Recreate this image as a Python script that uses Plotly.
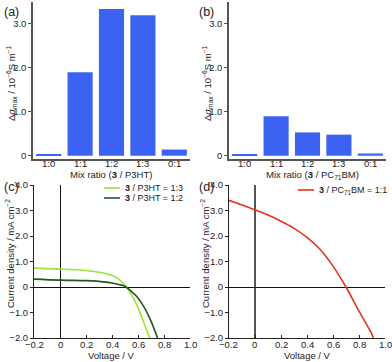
import plotly.graph_objects as go

W, H = 392, 362

# ===== data =====
ratios = ["1:0", "1:1", "1:2", "1:3", "0:1"]
sigma_p3ht = [0.04, 1.90, 3.34, 3.20, 0.14]
sigma_pcbm = [0.03, 0.90, 0.53, 0.48, 0.05]

v_13 = [-0.2, 0.0, 0.1, 0.2, 0.3, 0.35, 0.4, 0.45, 0.5, 0.55, 0.6, 0.65, 0.69]
j_13 = [0.74, 0.70, 0.68, 0.65, 0.58, 0.53, 0.45, 0.32, 0.06, -0.30, -0.82, -1.47, -2.0]

v_12 = [-0.2, 0.0, 0.2, 0.3, 0.4, 0.45, 0.5, 0.55, 0.6, 0.65, 0.7, 0.75]
j_12 = [0.31, 0.27, 0.25, 0.22, 0.16, 0.10, 0.03, -0.18, -0.43, -0.82, -1.34, -2.0]

v_pc = [-0.2, -0.1, 0.0, 0.1, 0.2, 0.3, 0.4, 0.5, 0.6, 0.7, 0.8, 0.9, 0.91]
j_pc = [3.40, 3.22, 3.03, 2.82, 2.58, 2.30, 1.95, 1.48, 0.82, 0.0, -0.95, -1.86, -2.0]

sig_ticks = [0, 1, 2, 3]
sig_text = ["0", "1.0", "2.0", "3.0"]
j_ticks = [-2, -1, 0, 1, 2, 3, 4]
j_text = ["\u22122.0", "\u22121.0", "0", "1.0", "2.0", "3.0", "4.0"]
v_ticks = [-0.2, 0, 0.2, 0.4, 0.6, 0.8, 1.0]
v_text = ["\u22120.2", "0", "0.2", "0.4", "0.6", "0.8", "1.0"]

BLUE = "#3b62f0"
LGREEN = "#9ae43c"
DGREEN = "#1f5a1f"
RED = "#e8301e"
FONT = "Liberation Sans, Arial, sans-serif"
SIG_TITLE = "\u0394<i>\u03c3</i><sub>max</sub> / 10<sup>\u22126</sup>S m<sup>\u22121</sup>"
J_TITLE = "Current density / mA cm<sup>\u22122</sup>"


def px_x(a, b):
    return [a / W, b / W]


def px_y(top, bottom):
    return [1 - bottom / H, 1 - top / H]


def note(text, x, y, size=9.5, xanchor="left", angle=0):
    fig.add_annotation(text=text, x=x / W, y=1 - y / H, xref="paper", yref="paper",
                       xanchor=xanchor, yanchor="middle", showarrow=False, textangle=angle,
                       font=dict(size=size, color="#222", family=FONT))


def xlabels(ax, vals, texts, y):
    # tick labels sit tight under the axis line, as in the reference
    for v, t in zip(vals, texts):
        fig.add_annotation(text=t, x=v, xref=ax, y=1 - y / H, yref="paper",
                           xanchor="center", yanchor="middle", showarrow=False,
                           font=dict(size=9.5, color="#222", family=FONT))


fig = go.Figure()

fig.add_trace(go.Bar(x=ratios, y=sigma_p3ht, marker_color=BLUE, marker_line_width=0,
                     xaxis="x", yaxis="y"))
fig.add_trace(go.Bar(x=ratios, y=sigma_pcbm, marker_color=BLUE, marker_line_width=0,
                     xaxis="x2", yaxis="y2"))

fig.add_trace(go.Scatter(x=v_13, y=j_13, mode="lines", line=dict(color=LGREEN, width=1.6, shape="spline"),
                         name="3 / P3HT = 1:3", xaxis="x3", yaxis="y3"))
fig.add_trace(go.Scatter(x=v_12, y=j_12, mode="lines", line=dict(color=DGREEN, width=1.6, shape="spline"),
                         name="3 / P3HT = 1:2", xaxis="x3", yaxis="y3"))
fig.add_trace(go.Scatter(x=v_pc, y=j_pc, mode="lines", line=dict(color=RED, width=1.6, shape="spline"),
                         name="3 / PC71BM = 1:1", xaxis="x4", yaxis="y4"))

tickfont = dict(size=9.5, color="#222")

bar_x = dict(type="category", categoryorder="array", categoryarray=ratios, range=[-0.5, 4.5],
             showline=True, linecolor="#555", linewidth=1.5, ticks="",
             showticklabels=False, showgrid=False, zeroline=False, automargin=False)
bar_y = dict(range=[-0.075, 3.5], tickvals=sig_ticks, ticktext=sig_text, showline=True,
             linecolor="#555", linewidth=1.5, ticks="outside", ticklen=3, tickcolor="#555",
             tickfont=tickfont, showgrid=False, zeroline=False, automargin=False)

iv_x = dict(range=[-0.2, 1.0], tickvals=v_ticks, showline=True, linecolor="#222",
            linewidth=1, ticks="inside", ticklen=3, tickcolor="#222", showticklabels=False,
            showgrid=False, zeroline=True, zerolinewidth=1.2, automargin=False)
iv_y = dict(range=[-2, 4], tickvals=j_ticks, ticktext=j_text, showline=True, linecolor="#222",
            linewidth=1, ticks="outside", ticklen=3, tickcolor="#222", tickfont=tickfont,
            showgrid=False, zeroline=True, zerolinecolor="#111", zerolinewidth=1.2, automargin=False)

fig.update_layout(
    width=W, height=H,
    margin=dict(l=0, r=0, t=0, b=0),
    paper_bgcolor="white", plot_bgcolor="white",
    font=dict(family=FONT, size=9.5, color="#222"),
    bargap=0.2,
    showlegend=False,
    xaxis=dict(bar_x, domain=px_x(33, 190), anchor="y"),
    yaxis=dict(bar_y, domain=px_y(2, 159), anchor="x"),
    xaxis2=dict(bar_x, domain=px_x(229, 386), anchor="y2"),
    yaxis2=dict(bar_y, domain=px_y(2, 159), anchor="x2"),
    xaxis3=dict(iv_x, domain=px_x(34, 190), anchor="y3", zerolinecolor="#111"),
    yaxis3=dict(iv_y, domain=px_y(185, 338), anchor="x3"),
    xaxis4=dict(iv_x, domain=px_x(229, 385), anchor="y4", zerolinecolor="#555", zerolinewidth=2),
    yaxis4=dict(iv_y, domain=px_y(185, 338), anchor="x4"),
)

# x tick labels
xlabels("x", ratios, ratios, 164)
xlabels("x2", ratios, ratios, 164)
xlabels("x3", v_ticks, v_text, 344)
xlabels("x4", v_ticks, v_text, 344)

# axis titles
note("Mix ratio (<b>3</b> / P3HT)", 111, 175, xanchor="center")
note("Mix ratio (<b>3</b> / PC<sub>71</sub>BM)", 312, 175, xanchor="center")
note("Voltage / V", 111, 355, xanchor="center")
note("Voltage / V", 307, 355, xanchor="center")
note(SIG_TITLE, 12, 84, xanchor="center", angle=-90)
note(SIG_TITLE, 208, 84, xanchor="center", angle=-90)
note(J_TITLE, 10, 254, xanchor="center", angle=-90)
note(J_TITLE, 205, 254, xanchor="center", angle=-90)

# hand-made legends (short sample lines, tight rows like the reference)
legend_rows = [
    (LGREEN, "<b>3</b> / P3HT = 1:3", 104, 188),
    (DGREEN, "<b>3</b> / P3HT = 1:2", 104, 198),
    (RED, "<b>3</b> / PC<sub>71</sub>BM = 1:1", 298, 190),
]
for color, text, x0, y0 in legend_rows:
    fig.add_shape(type="line", xref="paper", yref="paper", x0=x0 / W, x1=(x0 + 16) / W,
                  y0=1 - y0 / H, y1=1 - y0 / H, line=dict(color=color, width=1.6))
    note(text, x0 + 19, y0, size=9)

for label, x, y in [("(a)", 2, 12), ("(b)", 197, 12), ("(c)", 2, 187), ("(d)", 197, 187)]:
    note(label, x, y, size=12.5)

# the page body has a default 8px margin; drop it so the figure fills the window
fig.write_html("out.html", config={"displayModeBar": False},
               post_script="document.body.style.margin='0';")
